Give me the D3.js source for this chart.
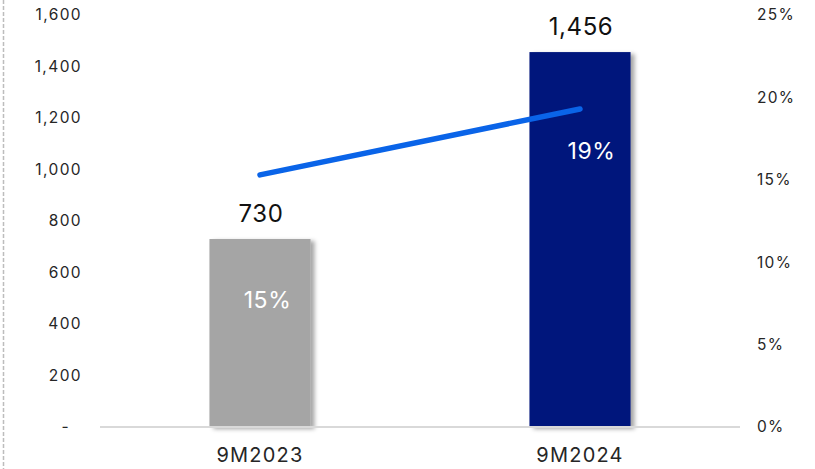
<!DOCTYPE html>
<html>
<head>
<meta charset="utf-8">
<script src="https://cdn.jsdelivr.net/npm/d3@7/dist/d3.min.js"></script>
<style>
  html, body { margin: 0; padding: 0; background: #fff; }
  svg { display: block; font-family: Inter, "Noto Sans", sans-serif; }
</style>
</head>
<body>
<svg id="chart" width="815" height="469"></svg>
<script>
// ---- data ----
const categories = ["9M2023", "9M2024"];
const values = [730, 1456];
const margins = [0.153, 0.193];
const marginLabels = ["15%", "19%"];
const valueLabels = ["730", "1,456"];
const leftTicks = [0, 200, 400, 600, 800, 1000, 1200, 1400, 1600];
const leftTickLabels = ["-", "200", "400", "600", "800", "1,000", "1,200", "1,400", "1,600"];
const rightTicks = [0, 0.05, 0.10, 0.15, 0.20, 0.25];
const rightTickLabels = ["0%", "5%", "10%", "15%", "20%", "25%"];
const barColors = ["#a5a5a5", "#00187c"];

// ---- layout ----
const svg = d3.select("#chart");
const plotLeft = 100, plotRight = 740, plotTop = 15, plotBottom = 427;

const x = d3.scaleBand().domain(categories).range([plotLeft, plotRight]).padding(0);
const yL = d3.scaleLinear().domain([0, 1600]).range([plotBottom, plotTop]);
const yR = d3.scaleLinear().domain([0, 0.25]).range([plotBottom, plotTop]);
const barW = x.bandwidth() * 0.316;
const cx = c => x(c) + x.bandwidth() / 2;

// shadow filter
const defs = svg.append("defs");
const f = defs.append("filter").attr("id", "shadow")
  .attr("x", "-20%").attr("y", "-20%").attr("width", "150%").attr("height", "150%");
f.append("feDropShadow").attr("dx", 4).attr("dy", 2).attr("stdDeviation", 2.2)
  .attr("flood-color", "#000").attr("flood-opacity", 0.35);

// dashed frame line at left
svg.append("line").attr("x1", 3.5).attr("x2", 3.5).attr("y1", 0).attr("y2", 469)
  .attr("stroke", "#bdbdbd").attr("stroke-width", 1.5).attr("stroke-dasharray", "4,2");

// left axis
const axL = d3.axisLeft(yL).tickValues(leftTicks).tickSize(0).tickPadding(0)
  .tickFormat((d, i) => leftTickLabels[i]);
const gL = svg.append("g").attr("transform", "translate(82,0)").call(axL);
gL.select(".domain").remove();
gL.selectAll("text").attr("font-size", 15.5).attr("fill", "#262626")
  .attr("font-family", "Inter, sans-serif").attr("letter-spacing", "1.4px")
  .attr("dx", (d) => d === 0 ? -12 : 0);

// right axis
const axR = d3.axisRight(yR).tickValues(rightTicks).tickSize(0).tickPadding(0)
  .tickFormat((d, i) => rightTickLabels[i]);
const gR = svg.append("g").attr("transform", "translate(757,0)").call(axR);
gR.select(".domain").remove();
gR.selectAll("text").attr("font-size", 15.5).attr("fill", "#262626")
  .attr("letter-spacing", "1.3px").attr("font-family", "Inter, sans-serif");

// bars
svg.append("g").selectAll("rect").data(values).join("rect")
  .attr("x", (d, i) => cx(categories[i]) - barW / 2)
  .attr("y", d => yL(d))
  .attr("width", barW)
  .attr("height", d => yL(0) - yL(d))
  .attr("fill", (d, i) => barColors[i])
  .attr("filter", "url(#shadow)");

// baseline
svg.append("line").attr("x1", plotLeft).attr("x2", plotRight)
  .attr("y1", plotBottom).attr("y2", plotBottom)
  .attr("stroke", "#d9d9d9").attr("stroke-width", 2);

// x axis labels
const axX = d3.axisBottom(x).tickSize(0).tickPadding(0);
const gX = svg.append("g").attr("transform", `translate(0,${plotBottom})`).call(axX);
gX.select(".domain").remove();
gX.selectAll("text").attr("font-size", 20).attr("fill", "#262626")
  .attr("font-family", "Inter, sans-serif").attr("dy", 0).attr("y", 35)
  .attr("letter-spacing", "1.2px");

// value labels
svg.append("g").selectAll("text").data(values).join("text")
  .attr("x", (d, i) => cx(categories[i]) + 1)
  .attr("y", d => yL(d) - 17)
  .attr("text-anchor", "middle")
  .attr("font-size", 24).attr("fill", "#111").attr("letter-spacing", "0.6px")
  .text((d, i) => valueLabels[i]);

// line
const line = d3.line().x((d, i) => cx(categories[i])).y(d => yR(d));
svg.append("path").datum(margins).attr("d", line)
  .attr("fill", "none").attr("stroke", "#0a64e8").attr("stroke-width", 5.5)
  .attr("stroke-linecap", "round");

// margin labels (inside bars)
const labelDx = [7.5, 11.5];
const labelDy = [133, 50];
svg.append("g").selectAll("text").data(margins).join("text")
  .attr("x", (d, i) => cx(categories[i]) + labelDx[i])
  .attr("y", (d, i) => yR(d) + labelDy[i])
  .attr("text-anchor", "middle")
  .attr("font-size", 23).attr("fill", "#ffffff")
  .attr("letter-spacing", "0.6px")
  .text((d, i) => marginLabels[i]);
</script>
</body>
</html>
